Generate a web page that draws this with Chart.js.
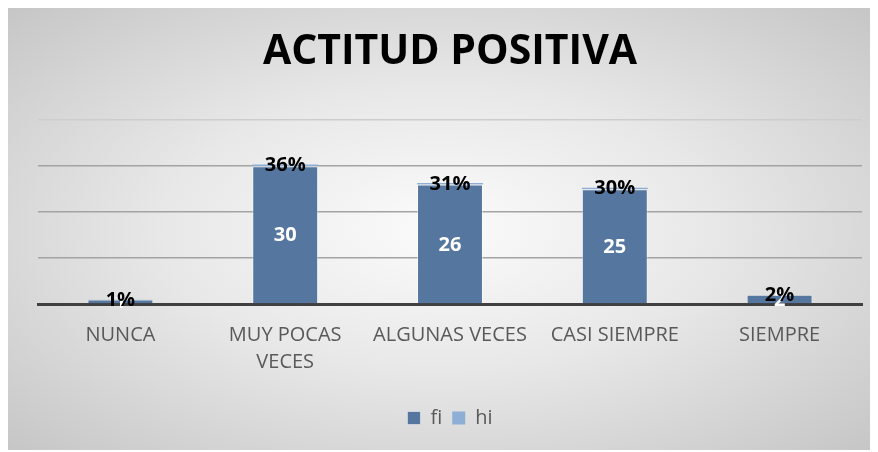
<!DOCTYPE html>
<html>
<head>
<meta charset="utf-8">
<script src="https://cdn.jsdelivr.net/npm/chart.js@4.4.1/dist/chart.umd.min.js"></script>
<style>
    html, body { margin: 0; padding: 0; background: #ffffff; }
    .chartbox {
        position: absolute;
        left: 8px;
        top: 8px;
        width: 862px;
        height: 442px;
        background: radial-gradient(ellipse farthest-corner at 50% 50%, #fbfbfb 0%, #e8e8e8 45%, #c6c6c6 100%);
    }
</style>
</head>
<body>
<div class="chartbox">
    <canvas id="myChart" width="862" height="442"></canvas>
</div>
<script>
// datos
const categorias = ['NUNCA', ['MUY POCAS', 'VECES'], 'ALGUNAS VECES', 'CASI SIEMPRE', 'SIEMPRE'];
const fi = [1, 30, 26, 25, 2];
const hi = [0.01, 0.36, 0.31, 0.30, 0.02];
const ticksY = [0, 10, 20, 30, 40];

// etiquetas de valores (no hay chartjs-datalabels)
const etiquetas = {
    id: 'etiquetas',
    afterDatasetsDraw(chart) {
        const ctx = chart.ctx;
        ctx.save();
        ctx.textAlign = 'center';
        ctx.textBaseline = 'middle';
        ctx.font = 'bold 20px "Open Sans"';

        // fi en blanco dentro de la barra
        chart.getDatasetMeta(0).data.forEach(function (bar, i) {
            ctx.fillStyle = '#ffffff';
            ctx.fillText(fi[i], bar.x, (bar.y + bar.base) / 2 + 1);
        });

        // hi en negro sobre la barra
        chart.getDatasetMeta(1).data.forEach(function (bar, i) {
            ctx.fillStyle = '#000000';
            ctx.fillText(Math.round(hi[i] * 100) + '%', bar.x, bar.y + 1);
        });
        ctx.restore();
    }
};

const ctx = document.getElementById('myChart').getContext('2d');

const myChart = new Chart(ctx, {
    type: 'bar',
    data: {
        labels: categorias,
        datasets: [{
            label: 'fi',
            data: fi,
            backgroundColor: '#55779f',
            borderColor: 'rgba(255, 255, 255, 0.45)',
            borderWidth: 1
        }, {
            label: 'hi',
            data: hi,
            backgroundColor: '#8faed6',
            borderColor: 'rgba(255, 255, 255, 0.45)',
            borderWidth: 0
        }]
    },
    options: {
        responsive: false,
        animation: false,
        layout: {
            padding: { left: 30, right: 8, top: 4, bottom: 12 }
        },
        datasets: {
            bar: {
                barPercentage: 0.8,
                categoryPercentage: 0.5
            }
        },
        plugins: {
            title: {
                display: true,
                text: 'ACTITUD POSITIVA',
                color: '#000000',
                font: { family: 'Open Sans', size: 41, weight: 'bold' },
                padding: { top: 16, bottom: 43 }
            },
            legend: {
                position: 'bottom',
                labels: {
                    color: '#595959',
                    font: { family: 'Open Sans', size: 20 },
                    boxWidth: 13,
                    boxHeight: 13,
                    padding: 10
                }
            },
            tooltip: { enabled: false }
        },
        scales: {
            x: {
                stacked: true,
                grid: { display: false, drawTicks: false },
                border: { color: '#404040', width: 3 },
                ticks: {
                    color: '#595959',
                    font: { family: 'Open Sans', size: 20, lineHeight: 1.35 },
                    padding: 18,
                    maxRotation: 0,
                    autoSkip: false
                },
                afterFit: function (scale) {
                    scale.height = 94;
                }
            },
            y: {
                stacked: true,
                min: ticksY[0],
                max: ticksY[ticksY.length - 1],
                display: true,
                border: { display: false },
                grid: {
                    drawTicks: false,
                    color: function (c) {
                        if (c.tick.value === 0) return 'rgba(0,0,0,0)';
                        if (c.tick.value === 40) return '#cdcdcd';
                        return '#a3a3a3';
                    },
                    lineWidth: 1.5
                },
                ticks: {
                    display: false,
                    stepSize: 10
                },
                afterFit: function (scale) {
                    scale.width = 0;
                }
            }
        }
    },
    plugins: [etiquetas]
});
</script>
</body>
</html>
